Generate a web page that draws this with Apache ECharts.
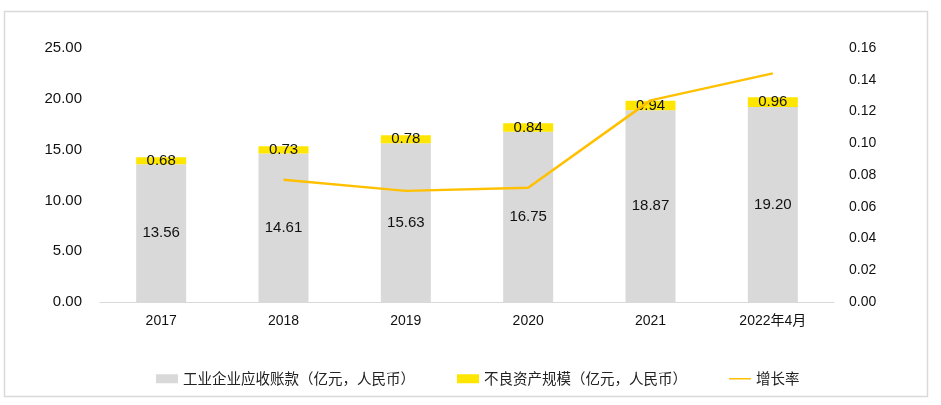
<!DOCTYPE html>
<html>
<head>
<meta charset="utf-8">
<script src="https://cdn.jsdelivr.net/npm/echarts@6/dist/echarts.min.js"></script>
<style>
  html, body { margin: 0; padding: 0; background: #fff; }
  #chart { width: 941px; height: 405px; }
</style>
</head>
<body>
<div id="chart"></div>
<script>
const categories = ["2017", "2018", "2019", "2020", "2021", "2022年4月"];
const receivables = [13.56, 14.61, 15.63, 16.75, 18.87, 19.20];
const badAssets = [0.68, 0.73, 0.78, 0.84, 0.94, 0.96];
const growthRate = [null, 0.077, 0.070, 0.072, 0.127, 0.144];

const chart = echarts.init(document.getElementById("chart"));
const font = "Liberation Sans, Arial, sans-serif";

// thin line icon for the legend (tiny dots keep the box 24x9)
const lineIcon = "path://M0,0 L0.01,0 L0.01,0.01 Z M0,9 L0.01,9 L0.01,8.99 Z M0,3.6 L24,3.6 L24,5.4 L0,5.4 Z";

const options = {
  animation: false,
  textStyle: { fontFamily: font },
  graphic: [
    {
      type: "rect",
      shape: { x: 4.5, y: 11.5, width: 923, height: 385 },
      style: { fill: "none", stroke: "#d9d9d9", lineWidth: 1.5 },
      silent: true
    }
  ],
  legend: {
    bottom: 14,
    left: 151,
    itemGap: 42,
    itemWidth: 22,
    itemHeight: 9,
    textStyle: { fontSize: 14.5, color: "#222", fontFamily: "Noto Sans CJK SC" },
    data: [
      { name: "工业企业应收账款（亿元，人民币）", icon: "rect" },
      { name: "不良资产规模（亿元，人民币）", icon: "rect" },
      { name: "增长率", icon: lineIcon }
    ]
  },
  grid: {
    left: 100,
    right: 107,
    top: 48,
    bottom: 103
  },
  xAxis: {
    type: "category",
    data: categories,
    axisLine: { lineStyle: { color: "#d9d9d9", width: 1 } },
    axisTick: { show: false },
    axisLabel: { color: "#111", fontSize: 14, margin: 12, fontFamily: "Liberation Sans, Noto Sans CJK SC" }
  },
  yAxis: [
    {
      type: "value",
      min: 0,
      max: 25,
      interval: 5,
      axisLine: { show: false },
      axisTick: { show: false },
      splitLine: { show: false },
      axisLabel: {
        color: "#111",
        fontSize: 15,
        margin: 18,
        formatter: function (v) { return v.toFixed(2); }
      }
    },
    {
      type: "value",
      min: 0,
      max: 0.16,
      interval: 0.02,
      axisLine: { show: false },
      axisTick: { show: false },
      splitLine: { show: false },
      axisLabel: {
        color: "#111",
        fontSize: 14,
        margin: 15,
        formatter: function (v) { return v.toFixed(2); }
      }
    }
  ],
  series: [
    {
      name: "工业企业应收账款（亿元，人民币）",
      type: "bar",
      stack: "total",
      barWidth: 50,
      data: receivables,
      itemStyle: { color: "#d9d9d9" },
      label: {
        show: true,
        position: "inside",
        color: "#111",
        fontSize: 15,
        formatter: function (p) { return p.value.toFixed(2); }
      }
    },
    {
      name: "不良资产规模（亿元，人民币）",
      type: "bar",
      stack: "total",
      barWidth: 50,
      data: badAssets,
      itemStyle: { color: "#ffe600" },
      label: {
        show: true,
        position: "inside",
        color: "#111",
        fontSize: 15,
        formatter: function (p) { return p.value.toFixed(2); }
      }
    },
    {
      name: "增长率",
      type: "line",
      yAxisIndex: 1,
      data: growthRate,
      symbol: "none",
      connectNulls: false,
      lineStyle: { color: "#ffc000", width: 2.5 },
      itemStyle: { color: "#ffc000" }
    }
  ]
};

chart.setOption(options);
</script>
</body>
</html>
